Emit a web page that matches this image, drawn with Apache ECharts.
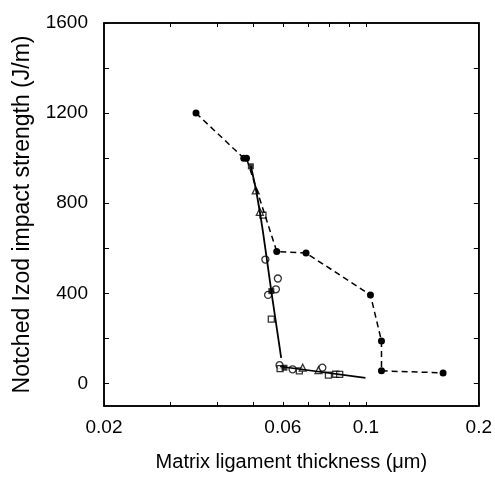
<!DOCTYPE html>
<html>
<head>
<meta charset="utf-8">
<script src="https://cdn.jsdelivr.net/npm/echarts@6/dist/echarts.min.js"></script>
<style>
  html, body { margin: 0; padding: 0; background: #fff; }
  #chart { width: 495px; height: 477px; }
</style>
</head>
<body>
<div id="chart"></div>
<script>
// dashed series (filled circles)
var dashX = [0.0352, 0.0472, 0.0480, 0.0578, 0.0692, 0.1028, 0.110, 0.110, 0.1606];
var dashY = [1200, 1000, 1000, 586, 579, 393, 188, 56, 47];
// solid fit lines
var fit1X = [0.0493, 0.0510, 0.0531, 0.0559, 0.0594];
var fit1Y = [964, 850, 674, 410, 114];
var fit2X = [0.0590, 0.0997];
var fit2Y = [75, 25];
// open symbols
var circX = [0.0539, 0.0582, 0.0575, 0.0548, 0.0588, 0.0637, 0.0765];
var circY = [550, 466, 418, 393, 81, 63, 70];
var sqX = [0.0531, 0.0559, 0.0590, 0.0664, 0.0794, 0.0830, 0.0851];
var sqY = [747, 286, 66, 56, 37, 41, 40];
var triX = [0.0508, 0.0521, 0.0678, 0.0747];
var triY = [857, 762, 70, 59];
// filled markers on the fit line
var fillX = [0.0493, 0.0559, 0.0606];
var fillY = [964, 410, 70];

var xLabels = [0.02, 0.06, 0.1, 0.2];
var xTicks = [0.02, 0.03, 0.04, 0.05, 0.06, 0.07, 0.08, 0.09, 0.1, 0.2];
var yLabels = [0, 400, 800, 1200, 1600];
var yTicks = [0, 200, 400, 600, 800, 1000, 1200, 1400, 1600];

function pts(xs, ys) {
  return xs.map(function (x, i) { return [Math.log10(x), ys[i]]; });
}
function lg(arr) {
  return arr.map(function (v) { return Math.log10(v); });
}

var chart = echarts.init(document.getElementById('chart'));
var font = 'Liberation Sans, Arial, sans-serif';
function axisLine() {
  return { show: true, onZero: false, lineStyle: { color: '#000', width: 1.5 } };
}

var option = {
  animation: false,
  backgroundColor: '#fff',
  grid: {
    left: 104, right: 13, top: 23, bottom: 68,
    show: true, borderColor: '#000', borderWidth: 1.5, backgroundColor: 'transparent'
  },
  xAxis: [{
    type: 'value',
    min: Math.log10(0.02),
    max: Math.log10(0.2),
    name: 'Matrix ligament thickness (\u03bcm)',
    nameLocation: 'middle',
    nameGap: 46,
    nameTextStyle: { color: '#000', fontSize: 20, fontFamily: font },
    axisLine: axisLine(),
    axisTick: { inside: true, length: 4, customValues: lg(xTicks), lineStyle: { color: '#000' } },
    axisLabel: {
      customValues: lg(xLabels), margin: 12, color: '#000', fontSize: 19, fontFamily: font,
      formatter: function (v) { return String(Math.round(Math.pow(10, v) * 100) / 100); }
    },
    splitLine: { show: false }
  }, {
    type: 'value',
    position: 'top',
    min: Math.log10(0.02),
    max: Math.log10(0.2),
    axisLine: axisLine(),
    axisTick: { inside: true, length: 4, customValues: lg(xTicks.slice(1, 9)), lineStyle: { color: '#000' } },
    axisLabel: { show: false },
    splitLine: { show: false }
  }],
  yAxis: [{
    type: 'value',
    min: -100,
    max: 1600,
    name: 'Notched Izod impact strength (J/m)',
    nameLocation: 'middle',
    nameGap: 70,
    nameTextStyle: { color: '#000', fontSize: 23, fontFamily: font },
    axisLine: axisLine(),
    axisTick: { inside: true, length: 5, customValues: yTicks, lineStyle: { color: '#000' } },
    axisLabel: {
      customValues: yLabels, margin: 16, color: '#000', fontSize: 19, fontFamily: font,
      formatter: function (v) { return String(v); }
    },
    splitLine: { show: false }
  }, {
    type: 'value',
    position: 'right',
    min: -100,
    max: 1600,
    axisLine: axisLine(),
    axisTick: { inside: true, length: 5, customValues: yTicks, lineStyle: { color: '#000' } },
    axisLabel: { show: false },
    splitLine: { show: false }
  }],
  series: [
    {
      type: 'line', data: pts(dashX, dashY),
      symbol: 'circle', symbolSize: 7,
      itemStyle: { color: '#000' },
      lineStyle: { color: '#000', width: 1.5, type: [6, 4] }
    },
    {
      type: 'line', data: pts(fit1X, fit1Y), smooth: 0.3,
      showSymbol: false, lineStyle: { color: '#000', width: 1.8 }
    },
    {
      type: 'line', data: pts(fit2X, fit2Y), xAxisIndex: 1, yAxisIndex: 1,
      showSymbol: false, lineStyle: { color: '#000', width: 1.6 }
    },
    {
      type: 'scatter', data: pts(circX, circY), symbol: 'circle', symbolSize: 7,
      itemStyle: { color: '#fff', borderColor: '#000', borderWidth: 1.3 }
    },
    {
      type: 'scatter', data: pts(sqX, sqY), symbol: 'rect', symbolSize: 6,
      itemStyle: { color: '#fff', borderColor: '#000', borderWidth: 1.3 }
    },
    {
      type: 'scatter', data: pts(triX, triY), symbol: 'triangle', symbolSize: 7,
      itemStyle: { color: '#fff', borderColor: '#000', borderWidth: 1.3 }
    },
    {
      type: 'scatter', data: pts(fillX, fillY), symbol: 'rect', symbolSize: 6,
      itemStyle: { color: '#000' }
    }
  ]
};
chart.setOption(option);
</script>
</body>
</html>
